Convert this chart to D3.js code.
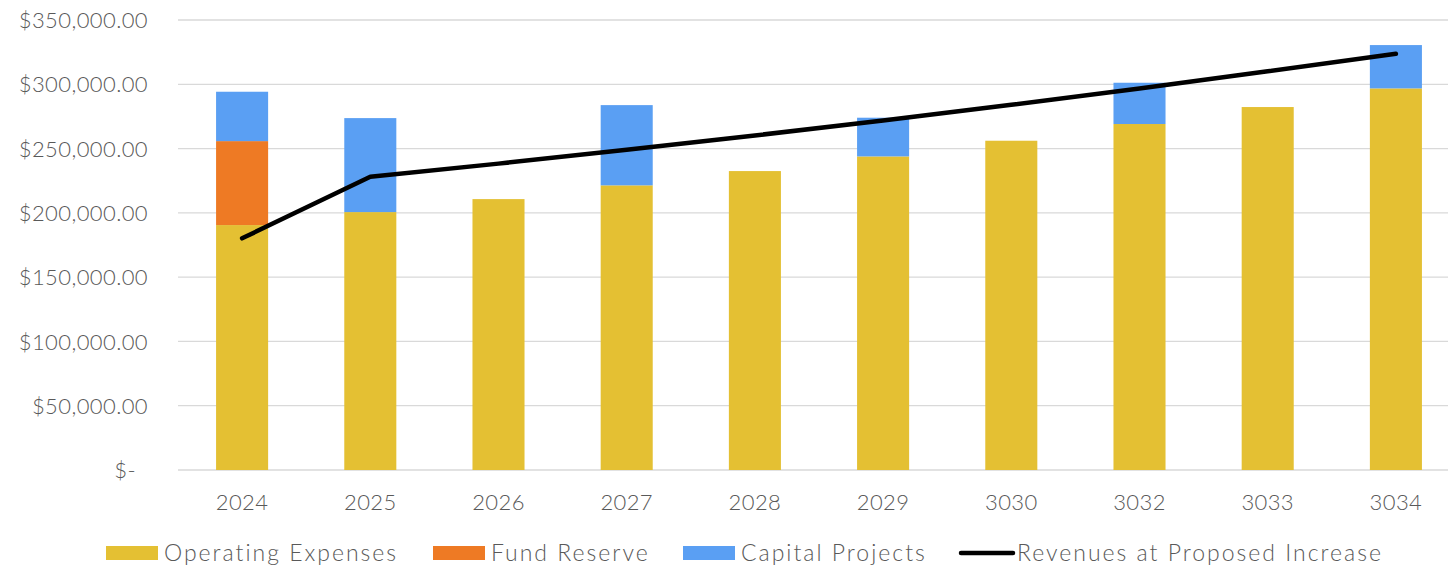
<!DOCTYPE html>
<html>
<head>
<meta charset="utf-8">
<script src="https://cdn.jsdelivr.net/npm/d3@7"></script>
<style>
  html, body { margin: 0; padding: 0; background: #fff; }
  svg { display: block; }
  text { font-family: "Century Gothic", Lato, "DejaVu Sans", sans-serif; font-weight: 300; fill: #595959; }
</style>
</head>
<body>
<svg id="chart" width="1448" height="567"></svg>
<script>
const categories = ["2024", "2025", "2026", "2027", "2028", "2029", "3030", "3032", "3033", "3034"];
const operatingExpenses = [190500, 200600, 210700, 221400, 232500, 243900, 256100, 269100, 282300, 296800];
const fundReserve = [65300, 0, 0, 0, 0, 0, 0, 0, 0, 0];
const capitalProjects = [38400, 73100, 0, 62400, 0, 30100, 0, 32100, 0, 33700];
const revenues = [180200, 228100, 238300, 249000, 260200, 271800, 284000, 296800, 310100, 323700];
const yTicks = [0, 50000, 100000, 150000, 200000, 250000, 300000, 350000];
const seriesNames = ["Operating Expenses", "Fund Reserve", "Capital Projects", "Revenues at Proposed Increase"];
const colors = ["#E4C033", "#EE7A24", "#5A9FF3", "#000000"];

const W = 1448, H = 567;
const svg = d3.select("#chart");
const fontSize = 22;

const x = d3.scaleBand().domain(categories).range([178, 1460]).paddingInner(0.594).paddingOuter(0.297);
const y = d3.scaleLinear().domain([0, 350000]).range([470, 20]);

// gridlines
svg.append("g").selectAll("line").data(yTicks).join("line")
  .attr("x1", 178).attr("x2", W)
  .attr("y1", d => y(d)).attr("y2", d => y(d))
  .attr("stroke", "#D9D9D9").attr("stroke-width", 1.3);

// y labels
const fmt = d3.format(",.2f");
const yAxis = d3.axisLeft(y).tickValues(yTicks).tickSize(0)
  .tickFormat(d => d === 0 ? "$-" : "$" + fmt(d));
const gy = svg.append("g").attr("transform", "translate(148,0)").call(yAxis);
gy.select(".domain").remove();
gy.selectAll("text").attr("dy", "0.35em")
  .style("font-size", fontSize + "px").style("letter-spacing", "0.4px")
  .attr("font-family", null).attr("fill", "#595959")
  .attr("x", d => d === 0 ? -12 : 0);

// x labels
const xAxis = d3.axisBottom(x).tickSize(0);
const gx = svg.append("g").attr("transform", "translate(0,470)").call(xAxis);
gx.select(".domain").remove();
gx.selectAll("text").attr("y", 32).attr("dy", "0.35em")
  .style("font-size", fontSize + "px").style("letter-spacing", "0.4px")
  .attr("font-family", null).attr("fill", "#595959");

// stacked bars
const rows = categories.map((c, i) => ({ cat: c, op: operatingExpenses[i], fr: fundReserve[i], cp: capitalProjects[i] }));
const stack = d3.stack().keys(["op", "fr", "cp"])(rows);
svg.append("g").selectAll("g").data(stack).join("g")
  .attr("fill", (d, i) => colors[i])
  .selectAll("rect").data(d => d.filter(s => s[1] - s[0] > 0)).join("rect")
  .attr("x", d => x(d.data.cat))
  .attr("width", x.bandwidth())
  .attr("y", d => y(d[1]))
  .attr("height", d => y(d[0]) - y(d[1]));

// revenue line
const line = d3.line().x((d, i) => x(categories[i]) + x.bandwidth() / 2).y(d => y(d));
svg.append("path").datum(revenues)
  .attr("d", line).attr("fill", "none").attr("stroke", "#000")
  .attr("stroke-width", 4.5).attr("stroke-linecap", "round").attr("stroke-linejoin", "round");

// legend (item start positions as layout)
const legendX = [106, 433, 683, 959];
const ly = 553;
const swW = 52, swH = 14, gapT = 6;
seriesNames.forEach((n, i) => {
  const g = svg.append("g").attr("transform", `translate(${legendX[i]},0)`);
  if (i < 3) {
    g.append("rect").attr("x", 0).attr("y", ly - swH / 2).attr("width", swW).attr("height", swH).attr("fill", colors[i]);
  } else {
    g.append("line").attr("x1", 2).attr("x2", swW + 2).attr("y1", ly).attr("y2", ly)
      .attr("stroke", "#000").attr("stroke-width", 4.5).attr("stroke-linecap", "round");
  }
  g.append("text").attr("x", i < 3 ? swW + gapT : swW + 6).attr("y", ly).attr("dy", "0.35em")
    .style("font-size", "23px").style("letter-spacing", "2px").text(n);
});
</script>
</body>
</html>
